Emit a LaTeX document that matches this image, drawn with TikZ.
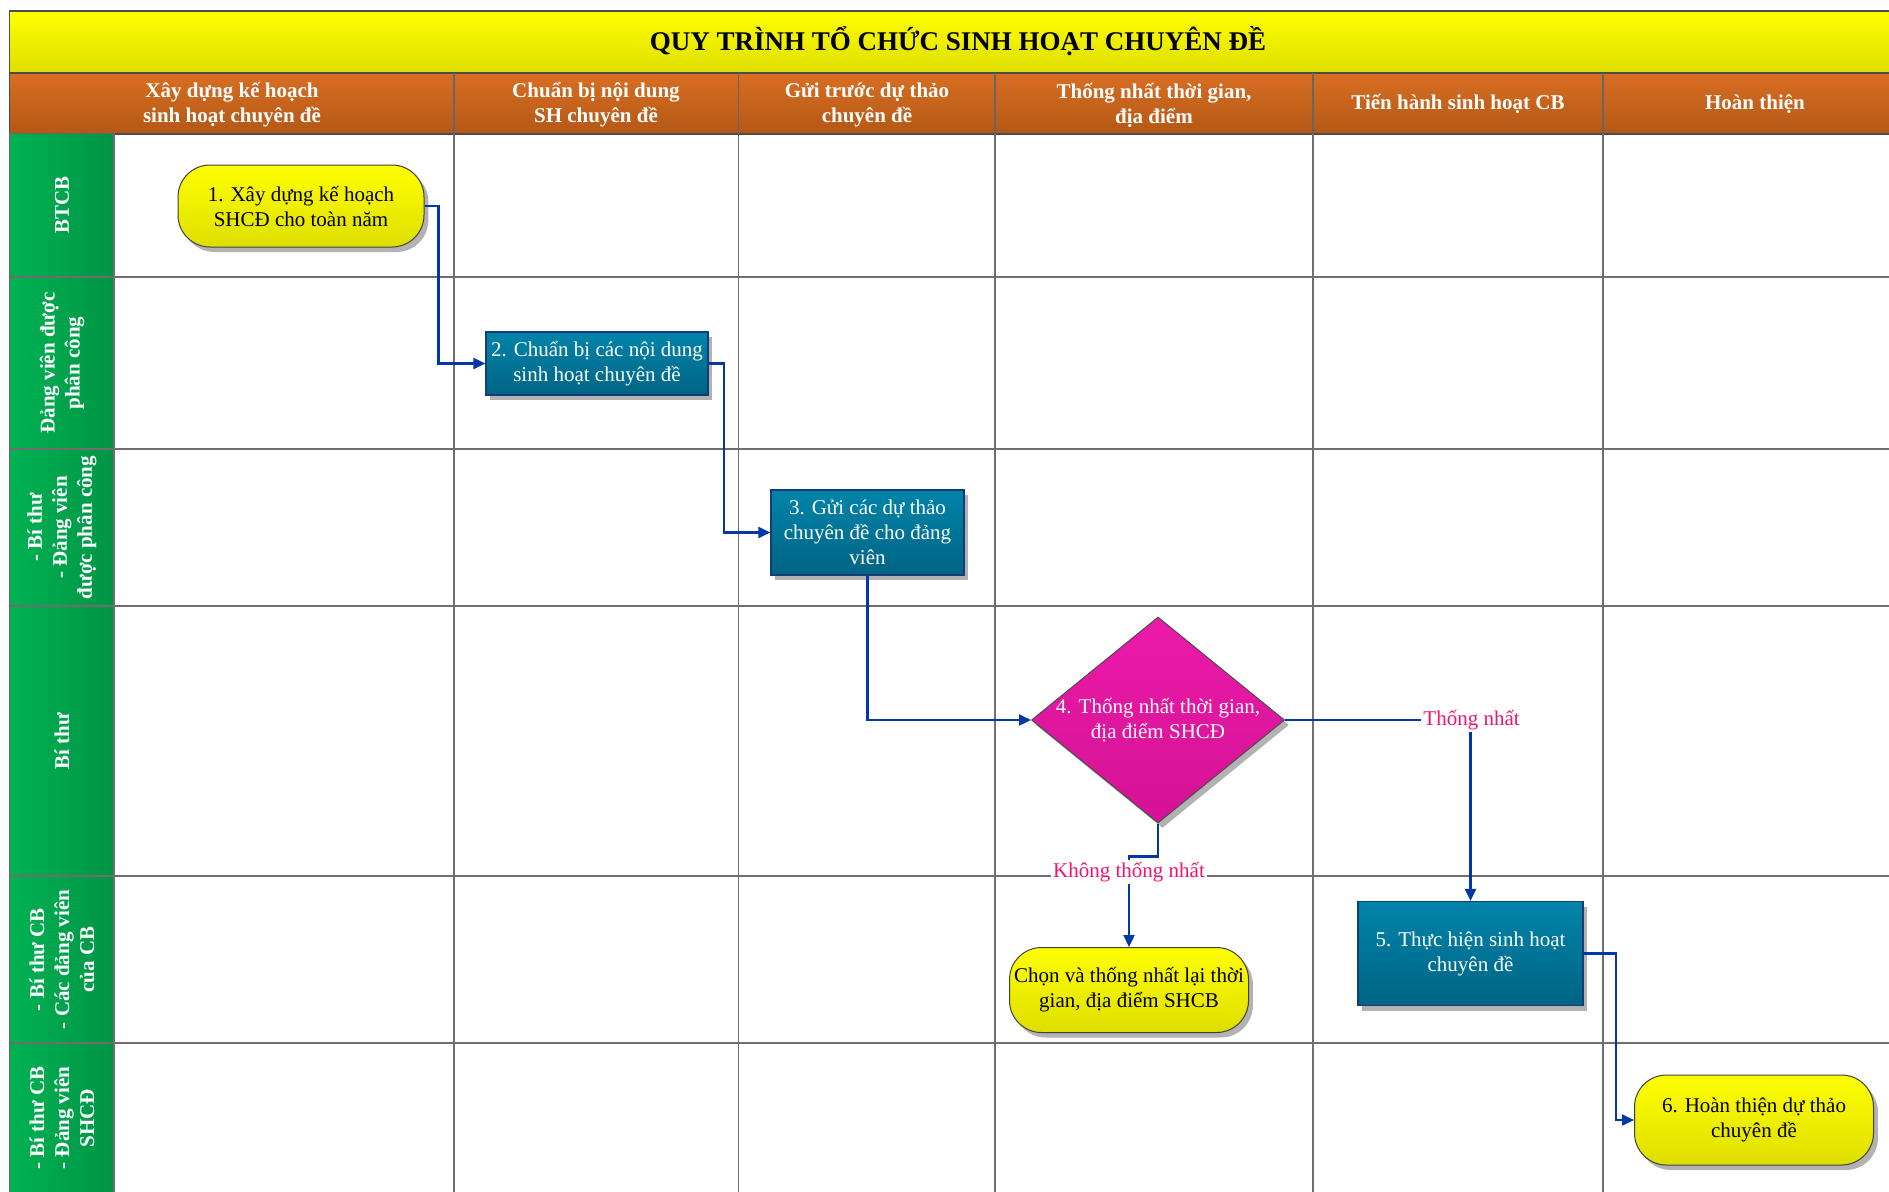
\documentclass[tikz,border=0pt]{standalone}
\usepackage{fontspec}
\setmainfont{Liberation Serif}
\usetikzlibrary{shapes.geometric,shadows,arrows.meta,calc}
\definecolor{ytop}{RGB}{255,255,0}
\definecolor{ybot}{RGB}{222,222,0}
\definecolor{otop}{RGB}{216,110,34}
\definecolor{obot}{RGB}{180,88,22}
\definecolor{gleft}{RGB}{0,178,82}
\definecolor{gright}{RGB}{0,148,70}
\definecolor{ttop}{RGB}{0,132,170}
\definecolor{tbot}{RGB}{0,100,132}
\definecolor{mtop}{RGB}{236,26,170}
\definecolor{mbot}{RGB}{212,18,148}
\definecolor{connblue}{RGB}{0,56,168}
\definecolor{pinklbl}{RGB}{240,20,110}
\definecolor{gridline}{RGB}{110,110,110}
\begin{document}
\begin{tikzpicture}[x=0.5pt,y=-0.5pt,
  every node/.style={font=\fontsize{10.5}{12.5}\selectfont},
  hdr/.style={text=white,align=center,font=\bfseries\fontsize{10.5}{12.5}\selectfont},
  lane/.style={text=white,align=center,rotate=90,font=\bfseries\fontsize{10.5}{12.5}\selectfont},
  shadowed/.style={drop shadow={shadow xshift=2.2pt,shadow yshift=-2.5pt,opacity=0.3,fill=black}},
  termnode/.style={shadowed,draw=black!75,line width=0.5pt,rounded corners=16pt,top color=ytop,bottom color=ybot,align=center,inner sep=1pt},
  procbox/.style={shadowed,draw={rgb,255:red,20;green,60;blue,120},line width=0.6pt,top color=ttop,bottom color=tbot,text=white,align=center,inner sep=2pt},
  decbox/.style={shadowed,diamond,draw=black!70,line width=0.5pt,top color=mtop,bottom color=mbot,inner sep=0pt},
  flow/.style={draw=connblue,line width=1.1pt,-{Triangle[length=6pt,width=5.5pt]}},
  flowplain/.style={draw=connblue,line width=1.1pt},
  lbl/.style={fill=white,text=pinklbl,inner sep=1pt},
  gv/.style={draw=gridline,line width=0.6pt},
  gh/.style={draw=gridline,line width=1pt}]
\useasboundingbox (0,0) rectangle (1889,1191);
\fill[white] (0,0) rectangle (1889,1191);
% title
\draw[draw=black!70,line width=0.8pt,top color=ytop,bottom color=ybot] (9.6,10.7) rectangle (1895,73);
\node[font=\bfseries\fontsize{13.5}{16}\selectfont] (title) at (958,41) {QUY TRÌNH TỔ CHỨC SINH HOẠT CHUYÊN ĐỀ};
% header
\draw[draw=black!70,line width=0.8pt,top color=otop,bottom color=obot] (9.6,73) rectangle (1895,133.7);
\foreach \xx in {454,738.5,995,1313,1603}{\draw[draw=black!60,line width=0.6pt] (\xx,73) -- (\xx,133.7);}
\node[hdr] (h1) at (232,105) {Xây dựng kế hoạch\\sinh hoạt chuyên đề};
\node[hdr] (h2) at (596,105) {Chuẩn bị nội dung\\SH chuyên đề};
\node[hdr] (h3) at (867,105) {Gửi trước dự thảo\\chuyên đề};
\node[hdr] (h4) at (1154,105) {Thống nhất thời gian,\\địa điểm};
\node[hdr] (h5) at (1458,104) {Tiến hành sinh hoạt CB};
\node[hdr] (h6) at (1755,104) {Hoàn thiện};
% lane cells
\foreach \ya/\yb in {133.7/277,277/449,449/606,606/876,876/1043,1043/1195}{
  \draw[draw=black!60,line width=0.6pt,left color=gleft,right color=gright] (9.6,\ya) rectangle (114,\yb);}
% grid
\foreach \xx in {454,738.5,995,1313,1603}{\draw[gv] (\xx,133.7) -- (\xx,1195);}
\draw[gh] (114,133.7) -- (114,1195);
\foreach \yy in {277,449,606,876,1043}{\draw[gh] (9.6,\yy) -- (1895,\yy);}
% lane labels
\node[lane] (l1) at (62,205) {BTCB};
\node[lane] (l2) at (62,363) {Đảng viên được\\phân công};
\node[lane] (l3) at (62,527.5) {- Bí thư\\- Đảng viên\\được phân công};
\node[lane] (l4) at (62,741) {Bí thư};
\node[lane] (l5) at (62,959.5) {- Bí thư CB\\- Các đảng viên\\của CB};
\node[lane] (l6) at (62,1118) {- Bí thư CB\\- Đảng viên\\SHCĐ};
% shapes
\node[termnode,minimum width=123pt,minimum height=41pt] (n1) at (301,206) {1. Xây dựng kế hoạch\\SHCĐ cho toàn năm};
\node[procbox,minimum width=111pt,minimum height=31.5pt] (n2) at (597,363.5) {2. Chuẩn bị các nội dung\\sinh hoạt chuyên đề};
\node[procbox,minimum width=96.5pt,minimum height=42.5pt] (n3) at (867.5,532.5) {3. Gửi các dự thảo\\chuyên đề cho đảng\\viên};
\node[decbox,minimum width=126.5pt,minimum height=103pt] (n4) at (1158,720) {};
\node[text=white,align=center] (n4t) at (n4.center) {4. Thống nhất thời gian,\\địa điểm SHCĐ};
\node[procbox,minimum width=112.5pt,minimum height=52pt] (n5) at (1470.5,953.5) {5. Thực hiện sinh hoạt\\chuyên đề};
\node[termnode,minimum width=119.5pt,minimum height=45pt] (n6) at (1754,1120) {6. Hoàn thiện dự thảo\\chuyên đề};
\node[termnode,minimum width=119.5pt,minimum height=42.5pt,inner sep=0pt] (n7) at (1129,990) {Chọn và thống nhất lại thời\\gian, địa điểm SHCB};
% labels
\node[lbl,anchor=west] (lt) at (1421,720) {Thống nhất};
\node[lbl] (lk) at (1129,872) {Không thống nhất};
% connectors
\draw[flow] (n1.east) -- ++(14,0) |- (n2.west);
\draw[flow] (n2.east) -- ++(15,0) |- (n3.west);
\draw[flow] (n3.south) |- (n4.west);
\draw[flowplain] (n4.east) -- (lt.west);
\draw[flow] (lt.south -| n5.north) -- (n5.north);
\draw[flowplain] (n4.south) -- ++(0,33) -| (lk.north);
\draw[flow] (lk.south) -- (n7.north);
\draw[flow] (n5.east) -- ++(32,0) |- (n6.west);
\end{tikzpicture}
\end{document}
